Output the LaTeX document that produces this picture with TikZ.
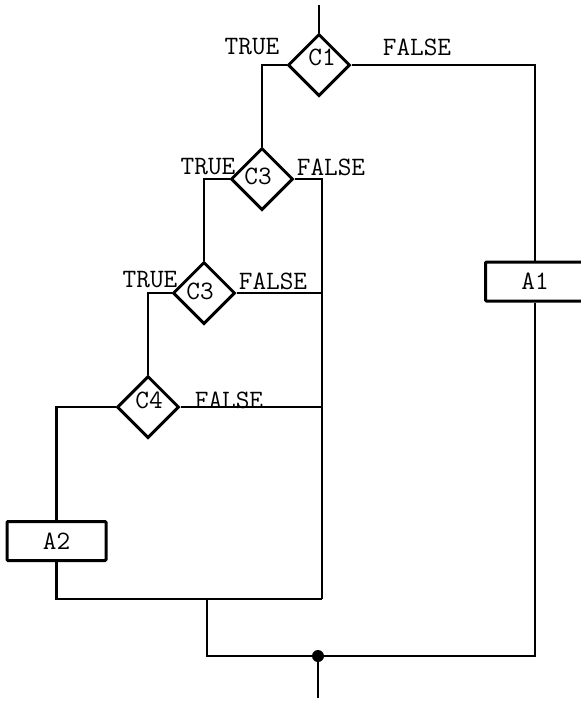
\documentclass[tikz,border=0pt]{standalone}
\usepackage{fontspec}
\usetikzlibrary{shapes.geometric}
\begin{document}
\begin{tikzpicture}[x=1pt,y=-1pt,
  every node/.style={font=\ttfamily\fontsize{26.5}{29}\selectfont},
  dia/.style={shape=diamond,draw,line width=3pt,minimum width=62pt,minimum height=62pt,inner sep=0pt},
  actbox/.style={draw,line width=3pt,minimum width=99pt,minimum height=39pt,inner sep=0pt,rounded corners=1pt},
  conn/.style={line width=2.6pt},
  lbl/.style={inner sep=0pt,anchor=center}]
\useasboundingbox (0,0) rectangle (581,702);
% decision diamonds
\node[dia,label={[lbl,xshift=3pt,yshift=8pt]center:C1}] (c1) at (319,65) {};
\node[dia,label={[lbl,xshift=-4pt,yshift=3pt]center:C3}] (c3a) at (262,179) {};
\node[dia,label={[lbl,xshift=-4pt,yshift=2pt]center:C3}] (c3b) at (204,293) {};
\node[dia,label={[lbl,xshift=1pt,yshift=7pt]center:C4}] (c4) at (148,407) {};
% action boxes
\node[actbox] (a1) at (535,281.5) {A1\hspace{16pt}};
\node[actbox] (a2) at (56.5,541) {A2\hspace{14pt}};
% branch labels
\node[lbl] (t1) at (252,47) {TRUE};
\node[lbl] (f1) at (417,47) {FALSE};
\node[lbl] (t2) at (208,167) {TRUE};
\node[lbl] (f2) at (331,167) {FALSE};
\node[lbl] (t3) at (150,280) {TRUE};
\node[lbl] (f3) at (273,281) {FALSE};
\node[lbl] (f4) at (229,400) {FALSE};
% coordinates
\coordinate (in) at (319,5);
\coordinate (vx) at (322,400);
\coordinate (jl) at (322,599);
\coordinate (jm) at (207,599);
\coordinate (jb) at (318,656);
\coordinate (out) at (318,698);
% connectors
\draw[conn] (in) -- (c1.north);
\draw[conn] (c1.west) -| (c3a.north);
\draw[conn] (c1.east) -| (a1.north);
\draw[conn] (c3a.west) -| (c3b.north);
\draw[conn] (c3a.east) -| (jl);
\draw[conn] (c3b.east) -- (c3b.east -| vx);
\draw[conn] (c3b.west) -| (c4.north);
\draw[conn] (c4.east) -- (c4.east -| vx);
\draw[conn] (c4.west) -| (a2.north);
\draw[conn] (a2.south) |- (jl);
\draw[conn] (jm) |- (jb);
\draw[conn] (a1.south) |- (jb);
\draw[conn] (jb) -- (out);
\fill (jb) circle (6pt);
\end{tikzpicture}
\end{document}
